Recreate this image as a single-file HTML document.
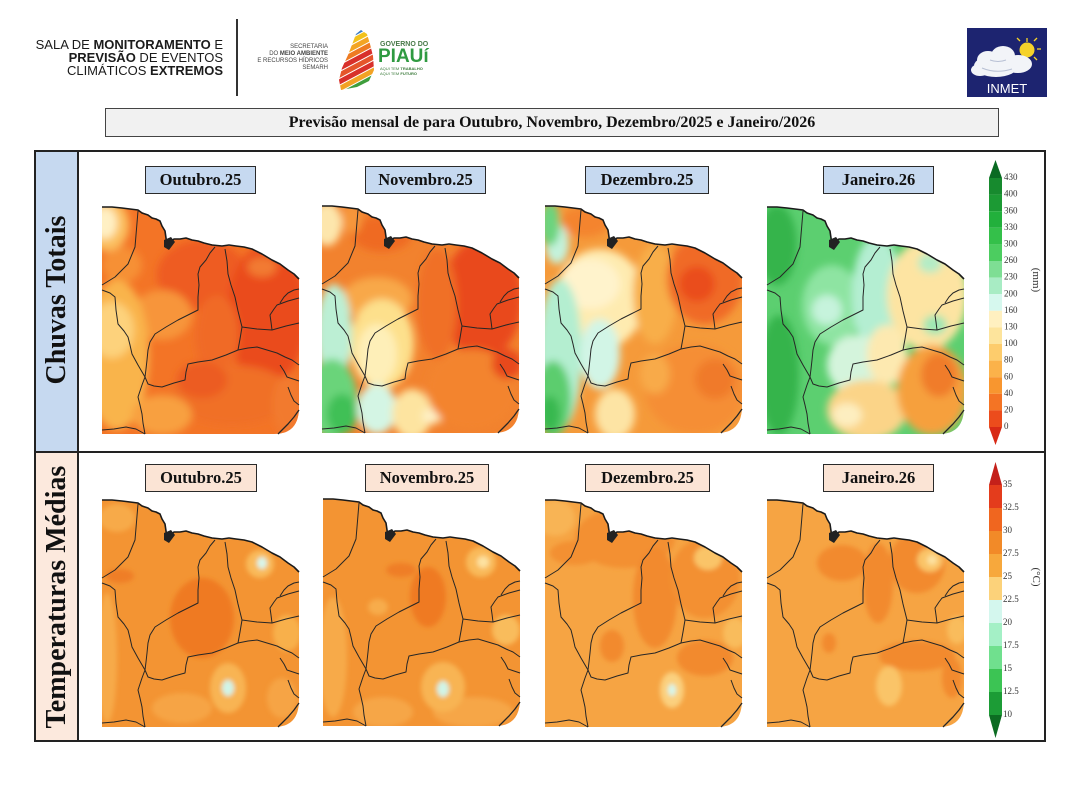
<!DOCTYPE html>
<html><head><meta charset="utf-8">
<style>
*{margin:0;padding:0;box-sizing:border-box}
html,body{width:1080px;height:797px;background:#fff;overflow:hidden}
body{position:relative;font-family:"Liberation Serif",serif;color:#111}
.abs{position:absolute}
.hdr{font-family:"Liberation Sans",sans-serif;font-size:13px;line-height:13px;text-align:right;color:#1b1b1b;left:20px;top:38px;width:203px;white-space:nowrap}
.sem{font-family:"Liberation Sans",sans-serif;font-size:6px;line-height:7px;text-align:right;color:#444;left:240px;top:44px;width:88px;white-space:nowrap}
.title{left:105px;top:108px;width:894px;height:29px;border:1px solid #444;background:#f1f1f1;text-align:center;font-weight:bold;font-size:16px;line-height:27px;white-space:nowrap}
.mb{height:28px;border:1.5px solid #2a2a2a;text-align:center;font-weight:bold;font-size:16.5px;line-height:25px;white-space:nowrap}
.r1{top:166px;background:#c6d9f0}
.r2{top:464px;background:#fbe4d5}
.rot{transform:rotate(-90deg);text-align:center;font-weight:bold;font-size:28px;white-space:nowrap;height:34px;line-height:34px}
</style></head><body>

<div class="abs" style="left:35px;top:151px;width:43px;height:301px;background:#c6d9f0"></div>
<div class="abs" style="left:35px;top:453px;width:43px;height:288px;background:#fce9dd"></div>
<div class="abs" style="left:34px;top:150px;width:1012px;height:592px;border:2px solid #222"></div>
<div class="abs" style="left:77px;top:150px;width:2px;height:592px;background:#222"></div>
<div class="abs" style="left:34px;top:451px;width:1012px;height:2px;background:#222"></div>

<div class="abs rot" style="left:-93px;top:283px;width:300px">Chuvas Totais</div>
<div class="abs rot" style="left:-103px;top:580px;width:320px">Temperaturas Médias</div>

<div class="abs hdr">SALA DE <b>MONITORAMENTO</b> E<br><b>PREVISÃO</b> DE EVENTOS<br>CLIMÁTICOS <b>EXTREMOS</b></div>
<div class="abs" style="left:236px;top:19px;width:2px;height:77px;background:#333"></div>
<div class="abs sem">SECRETARIA<br>DO <b>MEIO AMBIENTE</b><br>E RECURSOS HÍDRICOS<br>SEMARH</div>
<div class="abs" style="left:380px;top:41px;font-family:'Liberation Sans',sans-serif;font-size:7px;font-weight:bold;color:#4a7a4a;white-space:nowrap">GOVERNO DO</div>
<div class="abs" style="left:378px;top:47px;font-family:'Liberation Sans',sans-serif;font-size:19px;line-height:19px;font-weight:bold;color:#2f9a41;white-space:nowrap">PIAUí</div>
<div class="abs" style="left:380px;top:66px;font-family:'Liberation Sans',sans-serif;font-size:4px;line-height:5px;color:#3a7a3a;white-space:nowrap">AQUI TEM <b>TRABALHO</b><br>AQUI TEM <b>FUTURO</b></div>

<div class="abs title">Previsão mensal de para Outubro, Novembro, Dezembro/2025 e Janeiro/2026</div>

<div class="abs mb r1" style="left:145px;width:111px">Outubro.25</div>
<div class="abs mb r1" style="left:365px;width:121px">Novembro.25</div>
<div class="abs mb r1" style="left:585px;width:124px">Dezembro.25</div>
<div class="abs mb r1" style="left:823px;width:111px">Janeiro.26</div>
<div class="abs mb r2" style="left:145px;width:112px">Outubro.25</div>
<div class="abs mb r2" style="left:365px;width:124px">Novembro.25</div>
<div class="abs mb r2" style="left:585px;width:125px">Dezembro.25</div>
<div class="abs mb r2" style="left:823px;width:111px">Janeiro.26</div>

<svg class="abs" style="left:0;top:0" width="1080" height="797" viewBox="0 0 1080 797">
<defs>
<clipPath id="mc"><path d="M0,2 L20,3 L36,5 L46,10 L58,16 L63,26 L65,40 L72,34 L84,33 L102,38 L120,41 L134,41 L150,44 L170,55 L186,65 L197,74 L197,202 Q197,229 172,229 L0,229 Z"/></clipPath>
<filter id="bl" x="-30%" y="-30%" width="160%" height="160%"><feGaussianBlur stdDeviation="4"/></filter>
<filter id="bl2" x="-30%" y="-30%" width="160%" height="160%"><feGaussianBlur stdDeviation="2.5"/></filter>
<g id="bd" fill="none" stroke="#262626" stroke-width="1" stroke-linejoin="round">
<path stroke-width="1.6" stroke="#1a1a1a" d="M0,2 L10,2 L20,3 L28,4 L36,5 L40,8 L46,10 L50,13 L54,14 L58,16 L60,21 L63,26 L64,33 L65,40 L68,37 L72,34 L78,34 L84,33 L90,35 L96,36 L102,38 L110,40 L120,41 L127,40 L134,41 L142,42 L150,44 L160,49 L170,55 L178,59 L186,65 L192,69 L197,74"/>
<path fill="#222" stroke="none" d="M62,35 L69,32 L73,37 L67,45 L62,42 Z"/>
<path d="M36,6 L35,18 L34,30 L33,42 L26,59 L13,72 L0,80"/>
<path d="M0,85 L8,88 L13,92 L14,105 L16,119 L22,126 L26,132 L28,140 L30,149 L36,160 L43,172 L40,180 L36,192 L38,200 L40,209 L41,218 L43,229"/>
<path d="M113,42 L108,48 L104,55 L98,62 L96,69 L97,80 L96,92 L96,105 L86,110 L76,115 L64,122 L53,129 L48,137 L46,145 L45,155 L44,164 L43,172"/>
<path d="M123,44 L125,56 L126,69 L129,80 L133,92 L136,106 L140,122 L138,134 L136,145 L124,150 L110,155 L96,157 L86,159 L84,167 L83,175 L72,178 L60,182 L52,181 L46,179 L43,172"/>
<path d="M140,122 L155,124 L170,125 L184,121 L197,118"/>
<path d="M136,145 L146,143 L155,142 L165,145 L175,148 L183,152 L190,155 L197,160"/>
<path d="M170,125 L169,117 L168,110 L172,104 L175,100 L186,96 L197,93"/>
<path d="M178,98 L182,92 L186,88 L192,85 L197,84"/>
<path d="M178,160 L182,166 L185,172 L191,174 L197,176"/>
<path d="M186,182 L189,190 L192,196 L197,200"/>
<path d="M0,225 L12,224 L24,222 L34,224 L43,229"/>
<path stroke-width="1.3" d="M197,205 L192,212 L186,219 L181,224 L176,229"/>
</g>
</defs>

<g transform="translate(102,205)"><g clip-path="url(#mc)"><rect x="-5" y="-5" width="210" height="240" fill="#f37426"/>
<g filter="url(#bl)">
<ellipse cx="100" cy="70" rx="45" ry="35" fill="#ee5c20"/>
<ellipse cx="165" cy="110" rx="40" ry="70" fill="#ea4c1c"/>
<ellipse cx="160" cy="62" rx="15" ry="10" fill="#f27a30"/>
<ellipse cx="115" cy="130" rx="22" ry="40" fill="#f06a26"/>
<ellipse cx="60" cy="110" rx="30" ry="25" fill="#f7953a"/>
<ellipse cx="20" cy="60" rx="20" ry="18" fill="#f69036"/>
<ellipse cx="15" cy="150" rx="32" ry="75" fill="#f9b44c"/>
<ellipse cx="10" cy="125" rx="22" ry="28" fill="#fdd27c"/>
<ellipse cx="5" cy="20" rx="22" ry="26" fill="#fbc060"/>
<ellipse cx="3" cy="18" rx="12" ry="16" fill="#fff0c4"/>
<ellipse cx="130" cy="190" rx="60" ry="30" fill="#f07028"/>
<ellipse cx="100" cy="175" rx="25" ry="18" fill="#ec5c22"/>
<ellipse cx="60" cy="210" rx="30" ry="20" fill="#f8a040"/>
<ellipse cx="185" cy="200" rx="15" ry="30" fill="#f27a2e"/>
</g></g><use href="#bd"/></g>

<g transform="translate(322,204)"><g clip-path="url(#mc)"><rect x="-5" y="-5" width="210" height="240" fill="#f2822e"/>
<g filter="url(#bl)">
<ellipse cx="60" cy="30" rx="30" ry="18" fill="#ef6a24"/>
<ellipse cx="30" cy="15" rx="10" ry="15" fill="#f6963a"/>
<ellipse cx="5" cy="20" rx="15" ry="22" fill="#fde6ac"/>
<ellipse cx="160" cy="95" rx="40" ry="60" fill="#e9491c"/>
<ellipse cx="115" cy="100" rx="20" ry="55" fill="#f07028"/>
<ellipse cx="55" cy="95" rx="35" ry="22" fill="#f8a848"/>
<ellipse cx="60" cy="140" rx="32" ry="45" fill="#fde08c"/>
<ellipse cx="55" cy="150" rx="20" ry="30" fill="#feefb8"/>
<ellipse cx="12" cy="130" rx="18" ry="50" fill="#bcefd4"/>
<ellipse cx="10" cy="195" rx="25" ry="40" fill="#6ad47a"/>
<ellipse cx="20" cy="210" rx="15" ry="20" fill="#40c056"/>
<ellipse cx="55" cy="205" rx="20" ry="25" fill="#d4f5e4"/>
<ellipse cx="90" cy="210" rx="20" ry="25" fill="#fde4a0"/>
<ellipse cx="110" cy="212" rx="10" ry="8" fill="#fef0c4"/>
<ellipse cx="150" cy="185" rx="45" ry="40" fill="#f3842e"/>
<ellipse cx="185" cy="160" rx="15" ry="15" fill="#e8481c"/>
</g></g><use href="#bd"/></g>

<g transform="translate(545,204)"><g clip-path="url(#mc)"><rect x="-5" y="-5" width="210" height="240" fill="#f59a3a"/>
<g filter="url(#bl)">
<ellipse cx="40" cy="18" rx="25" ry="15" fill="#f4842e"/>
<ellipse cx="12" cy="40" rx="12" ry="20" fill="#c4f2dc"/>
<ellipse cx="5" cy="20" rx="10" ry="22" fill="#6cd47e"/>
<ellipse cx="55" cy="95" rx="45" ry="50" fill="#feebb0"/>
<ellipse cx="45" cy="80" rx="30" ry="25" fill="#fff3cc"/>
<ellipse cx="15" cy="150" rx="22" ry="75" fill="#b4eed0"/>
<ellipse cx="8" cy="195" rx="18" ry="38" fill="#5ccd6e"/>
<ellipse cx="5" cy="210" rx="10" ry="18" fill="#38b850"/>
<ellipse cx="55" cy="150" rx="20" ry="35" fill="#d2f5e6"/>
<ellipse cx="70" cy="210" rx="20" ry="25" fill="#fde4a4"/>
<ellipse cx="110" cy="90" rx="22" ry="50" fill="#f8ae48"/>
<ellipse cx="160" cy="75" rx="38" ry="45" fill="#f06a26"/>
<ellipse cx="152" cy="80" rx="18" ry="18" fill="#ea4e1e"/>
<ellipse cx="150" cy="185" rx="50" ry="45" fill="#f58e34"/>
<ellipse cx="170" cy="175" rx="20" ry="20" fill="#f07a2c"/>
<ellipse cx="110" cy="170" rx="15" ry="20" fill="#f8aa48"/>
</g></g><use href="#bd"/></g>

<g transform="translate(767,205)"><g clip-path="url(#mc)"><rect x="-5" y="-5" width="210" height="240" fill="#5ccf70"/>
<g filter="url(#bl)">
<ellipse cx="10" cy="40" rx="20" ry="40" fill="#34b44c"/>
<ellipse cx="12" cy="170" rx="20" ry="60" fill="#34b44c"/>
<ellipse cx="65" cy="100" rx="30" ry="40" fill="#8ee4a2"/>
<ellipse cx="60" cy="105" rx="15" ry="15" fill="#c6f3dc"/>
<ellipse cx="110" cy="90" rx="25" ry="60" fill="#b4eed2"/>
<ellipse cx="90" cy="160" rx="30" ry="30" fill="#d4f4dc"/>
<ellipse cx="160" cy="90" rx="40" ry="55" fill="#fde4a2"/>
<ellipse cx="163" cy="58" rx="12" ry="10" fill="#b4ecc6"/>
<ellipse cx="168" cy="120" rx="12" ry="10" fill="#9ee6b4"/>
<ellipse cx="120" cy="150" rx="20" ry="30" fill="#fde9b0"/>
<ellipse cx="100" cy="205" rx="40" ry="30" fill="#fbd488"/>
<ellipse cx="80" cy="210" rx="15" ry="12" fill="#fdeec0"/>
<ellipse cx="165" cy="185" rx="35" ry="45" fill="#f6a03c"/>
<ellipse cx="172" cy="170" rx="18" ry="22" fill="#f07c2a"/>
</g></g><use href="#bd"/></g>

<g transform="translate(102,498)"><g clip-path="url(#mc)"><rect x="-5" y="-5" width="210" height="240" fill="#f39433"/>
<g filter="url(#bl2)">
<ellipse cx="15" cy="20" rx="18" ry="14" fill="#f7aa48"/>
<ellipse cx="5" cy="160" rx="10" ry="65" fill="#f7aa48"/>
<ellipse cx="100" cy="120" rx="32" ry="40" fill="#ef7a24"/>
<ellipse cx="100" cy="95" rx="20" ry="15" fill="#ef7a24"/>
<ellipse cx="18" cy="78" rx="14" ry="7" fill="#ef7e26"/>
<ellipse cx="158" cy="66" rx="14" ry="14" fill="#f9ba5a"/>
<ellipse cx="160" cy="65" rx="5" ry="6" fill="#d8f7ec"/>
<ellipse cx="185" cy="135" rx="14" ry="18" fill="#f8b04c"/>
<ellipse cx="80" cy="210" rx="30" ry="15" fill="#f6a444"/>
<ellipse cx="180" cy="200" rx="15" ry="20" fill="#f6a444"/>
<ellipse cx="126" cy="190" rx="18" ry="25" fill="#f8b452"/>
<ellipse cx="126" cy="190" rx="6" ry="8" fill="#d0f5e8"/>
</g></g><use href="#bd"/></g>

<g transform="translate(323,497)"><g clip-path="url(#mc)"><rect x="-5" y="-5" width="210" height="240" fill="#f39433"/>
<g filter="url(#bl2)">
<ellipse cx="105" cy="100" rx="18" ry="30" fill="#ef7a24"/>
<ellipse cx="78" cy="73" rx="15" ry="7" fill="#ef7e26"/>
<ellipse cx="158" cy="65" rx="15" ry="15" fill="#f9ba5a"/>
<ellipse cx="160" cy="65" rx="6" ry="6" fill="#fde2a0"/>
<ellipse cx="10" cy="160" rx="14" ry="60" fill="#f7aa48"/>
<ellipse cx="183" cy="133" rx="14" ry="15" fill="#f9bc5c"/>
<ellipse cx="150" cy="215" rx="40" ry="15" fill="#f6a646"/>
<ellipse cx="60" cy="215" rx="30" ry="15" fill="#f6a646"/>
<ellipse cx="55" cy="110" rx="10" ry="8" fill="#f7ac4c"/>
<ellipse cx="120" cy="190" rx="22" ry="25" fill="#f8b452"/>
<ellipse cx="120" cy="192" rx="6" ry="8" fill="#d0f5e8"/>
</g></g><use href="#bd"/></g>

<g transform="translate(545,498)"><g clip-path="url(#mc)"><rect x="-5" y="-5" width="210" height="240" fill="#f6a443"/>
<g filter="url(#bl2)">
<ellipse cx="80" cy="40" rx="50" ry="30" fill="#f39033"/>
<ellipse cx="30" cy="55" rx="25" ry="12" fill="#f39033"/>
<ellipse cx="110" cy="100" rx="22" ry="50" fill="#f28a2e"/>
<ellipse cx="160" cy="80" rx="35" ry="40" fill="#f39033"/>
<ellipse cx="163" cy="60" rx="14" ry="12" fill="#fac468"/>
<ellipse cx="10" cy="20" rx="20" ry="18" fill="#f8b454"/>
<ellipse cx="67" cy="148" rx="12" ry="16" fill="#f28a2e"/>
<ellipse cx="160" cy="160" rx="28" ry="18" fill="#f28a2e"/>
<ellipse cx="190" cy="135" rx="12" ry="15" fill="#f9bc5c"/>
<ellipse cx="127" cy="192" rx="12" ry="18" fill="#fbd07e"/>
<ellipse cx="127" cy="192" rx="4" ry="6" fill="#d4f8ee"/>
</g></g><use href="#bd"/></g>

<g transform="translate(767,498)"><g clip-path="url(#mc)"><rect x="-5" y="-5" width="210" height="240" fill="#f6a443"/>
<g filter="url(#bl2)">
<ellipse cx="75" cy="65" rx="25" ry="18" fill="#f28a2e"/>
<ellipse cx="111" cy="85" rx="15" ry="40" fill="#f28a2e"/>
<ellipse cx="150" cy="65" rx="28" ry="30" fill="#f28a2e"/>
<ellipse cx="163" cy="62" rx="13" ry="12" fill="#fac468"/>
<ellipse cx="165" cy="62" rx="5" ry="5" fill="#fde2a0"/>
<ellipse cx="150" cy="158" rx="38" ry="15" fill="#f28a2e"/>
<ellipse cx="185" cy="180" rx="10" ry="20" fill="#f28a2e"/>
<ellipse cx="62" cy="145" rx="7" ry="10" fill="#f28a2e"/>
<ellipse cx="122" cy="188" rx="13" ry="20" fill="#fac468"/>
<ellipse cx="190" cy="132" rx="10" ry="14" fill="#f9bc5c"/>
</g></g><use href="#bd"/></g>

<g>
<polygon points="989,178 1002,178 995.5,160" fill="#0a6a22"/>
<rect x="989" y="178" width="13" height="16.6" fill="#178a2e"/>
<rect x="989" y="194.6" width="13" height="16.6" fill="#1c9a34"/>
<rect x="989" y="211.2" width="13" height="16.6" fill="#22b03c"/>
<rect x="989" y="227.8" width="13" height="16.6" fill="#34c04a"/>
<rect x="989" y="244.4" width="13" height="16.6" fill="#4ccd60"/>
<rect x="989" y="261" width="13" height="16.6" fill="#7ede94"/>
<rect x="989" y="277.6" width="13" height="16.6" fill="#a8ecc4"/>
<rect x="989" y="294.2" width="13" height="16.6" fill="#d6f8ee"/>
<rect x="989" y="310.8" width="13" height="16.6" fill="#fff0c0"/>
<rect x="989" y="327.4" width="13" height="16.6" fill="#fde49c"/>
<rect x="989" y="344" width="13" height="16.6" fill="#fdcc6c"/>
<rect x="989" y="360.6" width="13" height="16.6" fill="#fbb24a"/>
<rect x="989" y="377.2" width="13" height="16.6" fill="#f8962f"/>
<rect x="989" y="393.8" width="13" height="16.6" fill="#f47424"/>
<rect x="989" y="410.4" width="13" height="16.6" fill="#ec4c1c"/>
<polygon points="989,427 1002,427 995.5,445" fill="#d82a16"/>
<g font-family="Liberation Serif, serif" font-size="9" fill="#333" dominant-baseline="middle">
<text x="1004" y="178">430</text><text x="1004" y="194.6">400</text><text x="1004" y="211.2">360</text><text x="1004" y="227.8">330</text>
<text x="1004" y="244.4">300</text><text x="1004" y="261">260</text><text x="1004" y="277.6">230</text><text x="1004" y="294.2">200</text>
<text x="1004" y="310.8">160</text><text x="1004" y="327.4">130</text><text x="1004" y="344">100</text><text x="1004" y="360.6">80</text>
<text x="1004" y="377.2">60</text><text x="1004" y="393.8">40</text><text x="1004" y="410.4">20</text><text x="1004" y="427">0</text>
</g>
<text x="1033" y="280" font-family="Liberation Serif, serif" font-size="11" fill="#333" text-anchor="middle" transform="rotate(90 1033 280)">(mm)</text>
</g>

<g>
<polygon points="989,485 1002,485 995.5,462" fill="#c4201a"/>
<rect x="989" y="485" width="13" height="23" fill="#e43c1c"/>
<rect x="989" y="508" width="13" height="23" fill="#f0661f"/>
<rect x="989" y="531" width="13" height="23" fill="#f28a28"/>
<rect x="989" y="554" width="13" height="23" fill="#f7a83c"/>
<rect x="989" y="577" width="13" height="23" fill="#fcd27a"/>
<rect x="989" y="600" width="13" height="23" fill="#d4f7ee"/>
<rect x="989" y="623" width="13" height="23" fill="#a4f0c6"/>
<rect x="989" y="646" width="13" height="23" fill="#70e08e"/>
<rect x="989" y="669" width="13" height="23" fill="#3cc454"/>
<rect x="989" y="692" width="13" height="23" fill="#1c9c36"/>
<polygon points="989,715 1002,715 995.5,738" fill="#0c6c22"/>
<g font-family="Liberation Serif, serif" font-size="9" fill="#333" dominant-baseline="middle">
<text x="1003" y="485">35</text><text x="1003" y="508">32.5</text><text x="1003" y="531">30</text><text x="1003" y="554">27.5</text>
<text x="1003" y="577">25</text><text x="1003" y="600">22.5</text><text x="1003" y="623">20</text><text x="1003" y="646">17.5</text>
<text x="1003" y="669">15</text><text x="1003" y="692">12.5</text><text x="1003" y="715">10</text>
</g>
<text x="1033" y="577" font-family="Liberation Serif, serif" font-size="11" fill="#333" text-anchor="middle" transform="rotate(90 1033 577)">(°C)</text>
</g>

<defs><clipPath id="pc"><path d="M361,30 L367,34 L370,44 L373,56 L374,70 L369,81 L357,87 L341,90 L339,80 L342,68 L348,55 L353,42 L356,34 Z"/></clipPath></defs>
<g clip-path="url(#pc)">
<rect x="335" y="25" width="45" height="70" fill="#fff"/>
<g transform="rotate(-28 356 60)">
<rect x="320" y="26" width="80" height="6" fill="#2a66b0"/>
<rect x="320" y="33" width="80" height="5" fill="#3a7cc4"/>
<rect x="320" y="39" width="80" height="5" fill="#f2c21c"/>
<rect x="320" y="45" width="80" height="5" fill="#f3a524"/>
<rect x="320" y="51" width="80" height="5" fill="#ee7b22"/>
<rect x="320" y="57" width="80" height="5" fill="#d8302a"/>
<rect x="320" y="63" width="80" height="5" fill="#e5552a"/>
<rect x="320" y="69" width="80" height="5" fill="#d8302a"/>
<rect x="320" y="75" width="80" height="5" fill="#f2a224"/>
<rect x="320" y="81" width="80" height="6" fill="#3e9e3c"/>
<rect x="320" y="88" width="80" height="8" fill="#2e8e36"/>
</g>
</g>

<rect x="967" y="28" width="80" height="69" fill="#1d2470"/>
<g stroke="#f5d22a" stroke-width="1.3">
<line x1="1027" y1="38" x2="1027" y2="42"/><line x1="1037" y1="49" x2="1041" y2="49"/>
<line x1="1034" y1="41" x2="1037" y2="38"/><line x1="1020" y1="41" x2="1017" y2="38"/>
<line x1="1034" y1="57" x2="1037" y2="60"/>
</g>
<circle cx="1027" cy="50" r="7.5" fill="#f5d22a"/>
<g fill="#f2f4f8">
<ellipse cx="996" cy="66" rx="22" ry="11"/>
<ellipse cx="988" cy="60" rx="11" ry="9"/>
<ellipse cx="1003" cy="56" rx="12" ry="10"/>
<ellipse cx="1018" cy="64" rx="14" ry="9"/>
<ellipse cx="980" cy="70" rx="9" ry="6"/>
</g>
<path d="M982,68 Q996,74 1012,69 M990,60 Q998,63 1006,60" fill="none" stroke="#b8c0d4" stroke-width="1"/>
<text x="1007" y="93" font-family="Liberation Sans, sans-serif" font-size="13" fill="#fff" text-anchor="middle">INMET</text>
</svg>
</body></html>
